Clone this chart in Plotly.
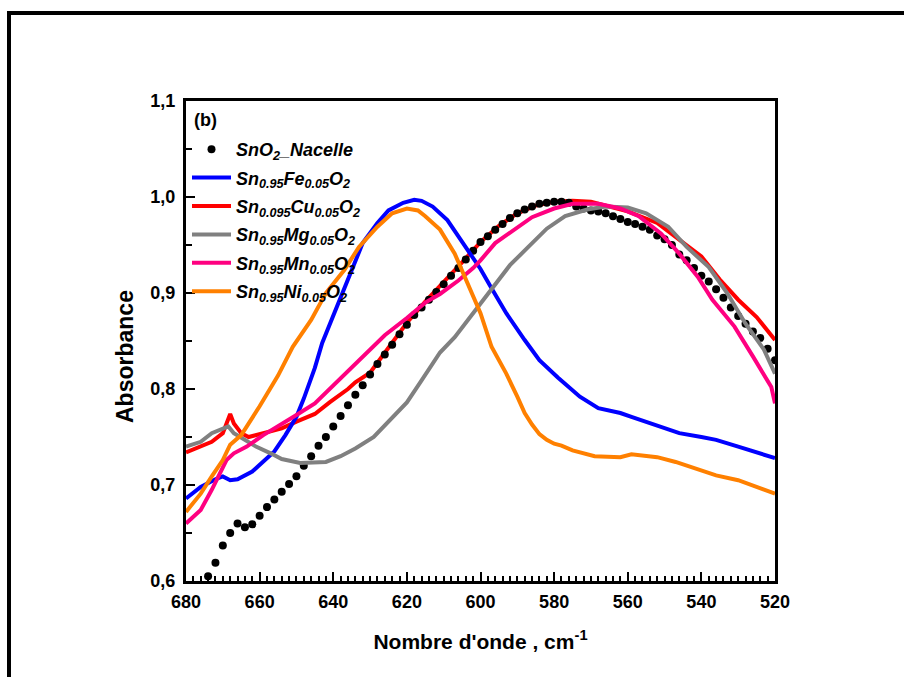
import plotly.graph_objects as go

# ---------------- data ----------------
sno2_x = [674, 672, 670, 668, 666, 664, 662, 660, 658, 656, 654, 652, 650, 648, 646, 644, 642, 640,
          638, 636, 634, 632, 630, 628, 626, 624, 622, 620, 618, 616, 614, 612, 610, 608, 606, 604,
          602, 600, 598, 596, 594, 592, 590, 588, 586, 584, 582, 580, 578, 576, 574, 572, 570, 568,
          566, 564, 562, 560, 558, 556, 554, 552, 550, 548, 546, 544, 542, 540, 538, 536, 534, 532,
          530, 528, 526, 524, 522, 520]
sno2_y = [0.605, 0.619, 0.637, 0.650, 0.660, 0.656, 0.659, 0.668, 0.677, 0.685, 0.693, 0.701, 0.709,
          0.720, 0.730, 0.741, 0.750, 0.761, 0.772, 0.783, 0.794, 0.804, 0.815, 0.826, 0.836, 0.846,
          0.857, 0.867, 0.877, 0.885, 0.893, 0.901, 0.909, 0.918, 0.926, 0.935, 0.944, 0.953, 0.959,
          0.966, 0.972, 0.978, 0.983, 0.987, 0.990, 0.993, 0.994, 0.995, 0.995, 0.994, 0.990, 0.988,
          0.986, 0.985, 0.983, 0.980, 0.977, 0.974, 0.972, 0.969, 0.966, 0.960, 0.956, 0.950, 0.940,
          0.934, 0.926, 0.918, 0.912, 0.904, 0.895, 0.885, 0.876, 0.868, 0.860, 0.853, 0.842, 0.830]

fe_x = [680, 676, 672, 670, 668, 666, 662, 659, 656, 653, 650, 648, 645, 643, 639, 635, 632, 628,
        625, 621, 618, 616, 613, 609, 606, 602, 600, 597, 593, 588, 584, 579, 573, 568, 562, 559,
        553, 546, 540, 536, 530, 526, 520]
fe_y = [0.686, 0.698, 0.706, 0.709, 0.705, 0.706, 0.714, 0.724, 0.735, 0.752, 0.771, 0.790, 0.822,
        0.848, 0.886, 0.922, 0.952, 0.973, 0.986, 0.994, 0.997, 0.996, 0.990, 0.976, 0.959, 0.938,
        0.925, 0.905, 0.879, 0.851, 0.830, 0.812, 0.792, 0.780, 0.775, 0.771, 0.763, 0.754, 0.750,
        0.747, 0.740, 0.735, 0.728]

cu_x = [680, 676, 673, 670, 668, 667, 665, 663, 659, 654, 650, 645, 641, 636, 634, 630, 625, 620,
        615, 610, 605, 600, 595, 590, 585, 580, 575, 570, 565, 560, 552, 546, 540, 535, 530, 525, 520]
cu_y = [0.734, 0.740, 0.745, 0.754, 0.774, 0.764, 0.754, 0.750, 0.754, 0.759, 0.766, 0.774, 0.786,
        0.800, 0.807, 0.817, 0.843, 0.869, 0.891, 0.911, 0.932, 0.953, 0.970, 0.983, 0.991, 0.995,
        0.996, 0.995, 0.990, 0.985, 0.973, 0.955, 0.938, 0.914, 0.893, 0.875, 0.851]

mg_x = [680, 676, 673, 668.5, 667, 664, 661, 657, 654, 649, 645, 642, 638, 634, 629, 625, 620, 616,
        611, 607, 601, 597, 592, 587, 582, 577, 571, 566, 560, 555, 549, 544, 538, 533, 528, 523, 520]
mg_y = [0.740, 0.745, 0.754, 0.761, 0.754, 0.747, 0.740, 0.733, 0.727, 0.723, 0.723, 0.724, 0.730,
        0.738, 0.750, 0.766, 0.786, 0.809, 0.838, 0.854, 0.884, 0.905, 0.929, 0.948, 0.967, 0.980,
        0.987, 0.990, 0.989, 0.983, 0.969, 0.948, 0.927, 0.900, 0.868, 0.841, 0.816]

mn_x = [680, 676, 673, 669, 667, 663.5, 659, 654.5, 650, 645, 641, 636, 631, 626, 620, 615, 611,
        606, 602, 600, 596, 591, 586, 580, 575, 568, 562, 557, 551, 546, 541, 537, 531, 526, 521, 520]
mn_y = [0.660, 0.674, 0.695, 0.726, 0.733, 0.740, 0.752, 0.762, 0.773, 0.785, 0.800, 0.818, 0.838,
        0.856, 0.874, 0.890, 0.899, 0.913, 0.926, 0.934, 0.952, 0.966, 0.979, 0.988, 0.993, 0.993,
        0.988, 0.980, 0.962, 0.941, 0.917, 0.893, 0.865, 0.834, 0.802, 0.785]

ni_x = [680, 676, 673, 670, 668, 665, 663, 660, 655, 651, 646, 642, 637, 633, 628, 624, 620, 617,
        615, 611, 607, 604, 600, 597, 593, 590, 588, 586, 584, 582, 580, 578, 575, 569, 562, 559,
        552, 547, 541, 536, 530, 525, 520]
ni_y = [0.672, 0.691, 0.709, 0.726, 0.742, 0.752, 0.764, 0.782, 0.814, 0.844, 0.872, 0.900, 0.924,
        0.948, 0.969, 0.983, 0.988, 0.986, 0.980, 0.966, 0.941, 0.914, 0.879, 0.844, 0.816, 0.792,
        0.775, 0.763, 0.753, 0.747, 0.743, 0.741, 0.736, 0.730, 0.729, 0.732, 0.729, 0.724, 0.716,
        0.710, 0.705, 0.698, 0.691]

names = ["SnO<sub>2</sub>_Nacelle",
         "Sn<sub>0.95</sub>Fe<sub>0.05</sub>O<sub>2</sub>",
         "Sn<sub>0.095</sub>Cu<sub>0.05</sub>O<sub>2</sub>",
         "Sn<sub>0.95</sub>Mg<sub>0.05</sub>O<sub>2</sub>",
         "Sn<sub>0.95</sub>Mn<sub>0.05</sub>O<sub>2</sub>",
         "Sn<sub>0.95</sub>Ni<sub>0.05</sub>O<sub>2</sub>"]

x_ticks = [680, 660, 640, 620, 600, 580, 560, 540, 520]
y_ticks = [0.6, 0.7, 0.8, 0.9, 1.0, 1.1]
y_tick_labels = ["0,6", "0,7", "0,8", "0,9", "1,0", "1,1"]

colors = {"fe": "#0000ff", "cu": "#ff0000", "mg": "#808080", "mn": "#ff0080", "ni": "#ff8000"}

FONT = "Liberation Sans, Arial, sans-serif"

fig = go.Figure()

def line_trace(x, y, name, color, rank):
    return go.Scatter(x=x, y=y, mode="lines", name="<b><i>" + name + "</i></b>",
                      line=dict(color=color, width=4), legendrank=rank,
                      legendgroup=str(rank))

fig.add_trace(line_trace(cu_x, cu_y, names[2], colors["cu"], 3))
fig.add_trace(go.Scatter(x=sno2_x, y=sno2_y, mode="markers", name="<b><i>" + names[0] + "</i></b>",
                         marker=dict(color="black", size=8), legendrank=1, legendgroup="1"))
fig.add_trace(line_trace(fe_x, fe_y, names[1], colors["fe"], 2))
fig.add_trace(line_trace(mg_x, mg_y, names[3], colors["mg"], 4))
fig.add_trace(line_trace(mn_x, mn_y, names[4], colors["mn"], 5))
fig.add_trace(line_trace(ni_x, ni_y, names[5], colors["ni"], 6))

L, R, T, B = 186, 129, 101, 96
W, H = 904, 677
pw, ph = W - L - R, H - T - B

def px_x(p):
    return (p - L) / pw

def px_y(p):
    return (H - B - p) / ph

fig.update_layout(
    width=W, height=H,
    margin=dict(l=L, r=R, t=T, b=B, pad=0),
    paper_bgcolor="white", plot_bgcolor="white",
    font=dict(family=FONT, color="black"),
    showlegend=True,
    legend=dict(x=px_x(187), y=px_y(131), xanchor="left", yanchor="top",
                bgcolor="rgba(0,0,0,0)", borderwidth=0,
                font=dict(family=FONT, size=18, color="black"),
                tracegroupgap=2, itemwidth=39, traceorder="grouped"),
    xaxis=dict(range=[680, 520], autorange=False,
               tickmode="array", tickvals=x_ticks, ticktext=["<b>%d</b>" % v for v in x_ticks],
               ticks="inside", ticklen=9, tickwidth=2, tickcolor="black",
               minor=dict(dtick=2, ticks="inside", ticklen=5, tickwidth=1.5, tickcolor="black"),
               showline=True, linewidth=3, linecolor="black", mirror=True,
               showgrid=False, zeroline=False,
               tickfont=dict(family=FONT, size=18, color="black"),
               ticklabelstandoff=2,
               title=dict(text="<b>Nombre d'onde , cm<sup>-1</sup></b>",
                          font=dict(family=FONT, size=21, color="black"), standoff=24)),
    yaxis=dict(range=[0.6, 1.1], autorange=False,
               tickmode="array", tickvals=y_ticks, ticktext=["<b>" + t + "</b>" for t in y_tick_labels],
               ticks="inside", ticklen=9, tickwidth=2, tickcolor="black",
               minor=dict(dtick=0.05, ticks="inside", ticklen=6, tickwidth=2, tickcolor="black"),
               showline=True, linewidth=3, linecolor="black", mirror=True,
               showgrid=False, zeroline=False,
               tickfont=dict(family=FONT, size=18, color="black"),
               ticklabelstandoff=4),
)

fig.add_annotation(text="<b>Absorbance</b>", xref="paper", yref="paper",
                   x=px_x(125), y=px_y(357), xanchor="center", yanchor="middle",
                   textangle=-90, showarrow=False,
                   font=dict(family=FONT, size=23, color="black"))

fig.add_annotation(text="<b>(b)</b>", xref="paper", yref="paper",
                   x=px_x(192), y=px_y(120), xanchor="left", yanchor="middle",
                   showarrow=False, font=dict(family=FONT, size=18, color="black"))

fig.add_shape(type="rect", xref="paper", yref="paper",
              x0=px_x(9), y0=px_y(700), x1=px_x(930), y1=px_y(13),
              line=dict(color="black", width=4), fillcolor="rgba(0,0,0,0)", layer="above")

fig.write_html("out.html")
